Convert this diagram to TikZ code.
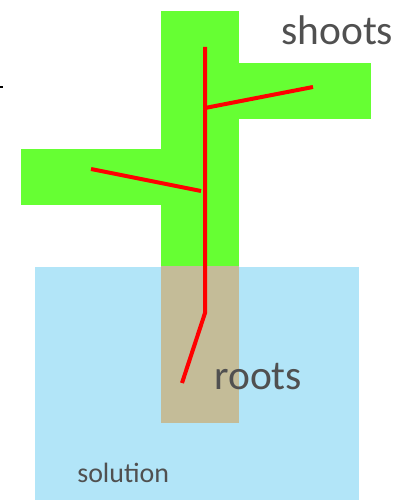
\documentclass[tikz,border=0pt]{standalone}
\usepackage{fontspec}
\setmainfont{Carlito}
\definecolor{leafgreen}{HTML}{66FF33}
\definecolor{soilbeige}{HTML}{C4BC98}
\definecolor{water}{HTML}{B2E5F8}
\definecolor{labelgray}{HTML}{505050}
\begin{document}
\begin{tikzpicture}[x=0.02cm,y=-0.02cm,
    label/.style={inner sep=0pt,anchor=base west,text=labelgray},
    stem/.style={draw=red,line width=0.08cm}]
      \useasboundingbox (0,0) rectangle (396,500);

      % solution bath and plant body
      \fill[water]     (35,267)  rectangle (359,500);
      \fill[leafgreen] (161,11)  rectangle (239,266);
      \fill[leafgreen] (21,149)  rectangle (161,205);
      \fill[leafgreen] (239,63)  rectangle (371,119);
      \fill[soilbeige] (161,266) rectangle (239,423);
      \fill[black]     (0,86)    rectangle (3,88);

      \coordinate (top)   at (205,47);
      \coordinate (kink)  at (205,313);
      \coordinate (tip)   at (182,383);
      \coordinate (rfork) at (205,108);
      \coordinate (rend)  at (313,87);
      \coordinate (lfork) at (201,191);
      \coordinate (lend)  at (91,169);

      \draw[stem] (top) -- (kink) -- (tip);
      \draw[stem] (rfork) -- (rend);
      \draw[stem] (lfork) -- (lend);

      \node[label,font=\fontsize{23.6}{28}\selectfont] (shoots)   at (281,45)  {shoots};
      \node[label,font=\fontsize{23.6}{28}\selectfont] (roots)    at (214,389) {roots};
      \node[label,font=\fontsize{15.9}{19}\selectfont] (solution) at (77,482)  {solution};
    \end{tikzpicture}
\end{document}
